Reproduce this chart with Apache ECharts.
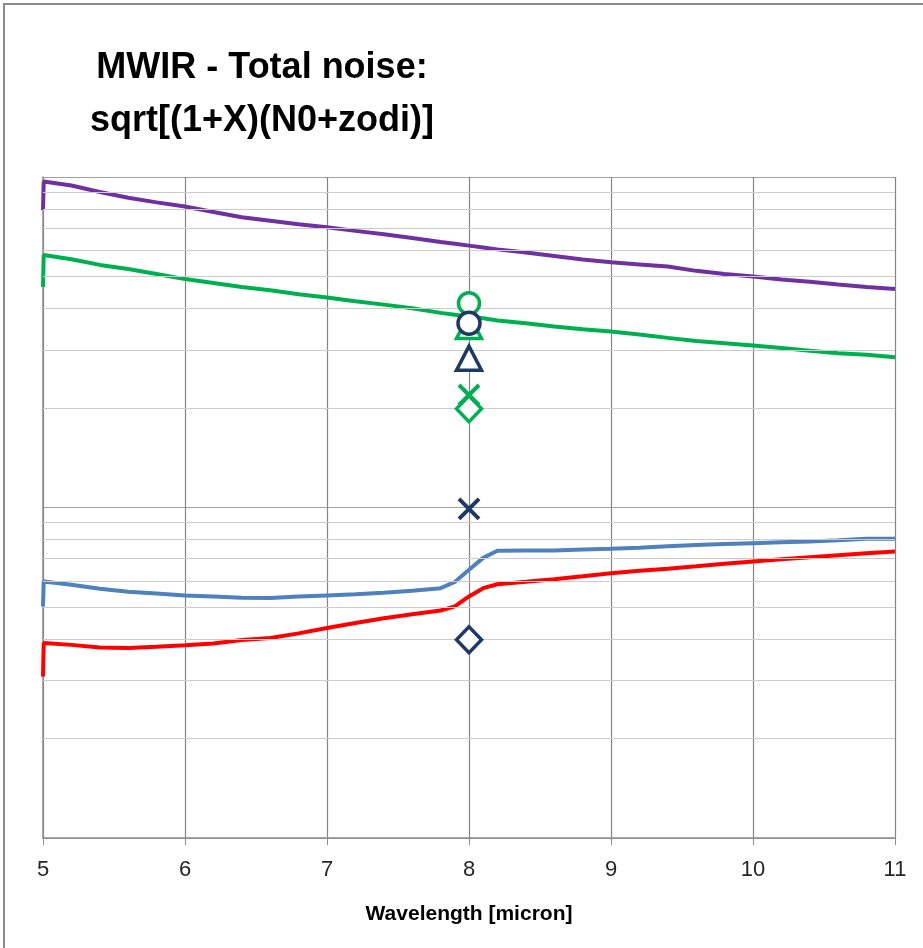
<!DOCTYPE html>
<html>
<head>
<meta charset="utf-8">
<script src="https://cdn.jsdelivr.net/npm/echarts@6/dist/echarts.min.js"></script>
<style>
html,body{margin:0;padding:0;background:#fff;}
#chart{width:923px;height:948px;}
</style>
</head>
<body>
<div id="chart"></div>
<script>
// Wavelength grid [micron] shared by the four curves
const wavelength = [5, 5.005, 5.2, 5.4, 5.6, 5.8, 6.0, 6.2, 6.4, 6.6, 6.8, 7.0, 7.2, 7.4, 7.6, 7.8, 7.9, 8.0, 8.1, 8.2, 8.4, 8.6, 8.8, 9.0, 9.2, 9.4, 9.6, 9.8, 10.0, 10.2, 10.4, 10.6, 10.8, 11.0];
const purpleNoise = [79.5, 96.9, 94.2, 90.1, 86.5, 83.8, 81.4, 78.4, 75.5, 73.7, 71.9, 70.5, 68.7, 67.1, 65.4, 63.6, 62.8, 62.0, 61.2, 60.4, 59.1, 57.7, 56.3, 55.2, 54.4, 53.6, 52.0, 50.9, 50.0, 49.0, 48.2, 47.3, 46.5, 45.8];
const greenNoise = [46.5, 58.1, 56.4, 54.2, 52.7, 50.9, 49.1, 47.8, 46.5, 45.4, 44.2, 43.2, 42.1, 41.1, 40.1, 38.8, 38.3, 37.8, 37.4, 36.8, 36.1, 35.3, 34.6, 34.1, 33.4, 32.6, 31.9, 31.4, 30.9, 30.4, 29.8, 29.3, 29.0, 28.5];
const blueNoise = [5.02, 5.97, 5.84, 5.68, 5.56, 5.49, 5.42, 5.38, 5.33, 5.32, 5.38, 5.42, 5.46, 5.52, 5.60, 5.70, 5.95, 6.48, 7.04, 7.40, 7.41, 7.41, 7.46, 7.50, 7.55, 7.63, 7.70, 7.75, 7.80, 7.85, 7.89, 7.96, 8.04, 8.04];
const redNoise = [3.08, 3.89, 3.84, 3.77, 3.76, 3.79, 3.83, 3.88, 3.97, 4.03, 4.16, 4.32, 4.47, 4.62, 4.75, 4.88, 5.02, 5.38, 5.70, 5.86, 5.96, 6.07, 6.19, 6.32, 6.44, 6.53, 6.64, 6.76, 6.87, 6.97, 7.07, 7.17, 7.27, 7.36];

// Single-point markers at 8 micron
const markerWavelength = 8;
const greenMarkers = { circle: 41.5, triangle: 35.3, cross: 21.9, diamond: 19.9 };
const navyMarkers = { circle: 36.1, triangle: 28.3, cross: 9.9, diamond: 3.98 };

// Axis ranges and minor gridlines (log axis)
const xTicks = [5, 6, 7, 8, 9, 10, 11];
const yMin = 1, yMax = 100;
const minorGrid = [2, 3, 4, 5, 6, 7, 8, 9, 20, 30, 40, 50, 60, 70, 80, 90];

const FONT = "'Liberation Sans', Arial, sans-serif";
const GREEN = '#00B050', NAVY = '#1F3864';
const CROSS = 'path://M0 0L10 10M10 0L0 10';

function zip(xs, ys) { return xs.map((x, i) => [x, ys[i]]); }
function lineSeries(name, color, vals) {
  return { name, type: 'line', data: zip(wavelength, vals), showSymbol: false, symbol: 'none',
    lineStyle: { color, width: 4 }, z: 3, animation: false };
}
function marker(name, color, symbol, size, val) {
  const isCross = symbol === CROSS;
  return { name, type: 'scatter', data: [[markerWavelength, val]], symbol, symbolSize: size, z: 5,
    itemStyle: { color: isCross ? 'none' : '#fff', borderColor: color, borderWidth: isCross ? 4 : 3.5, opacity: 1 },
    animation: false };
}

const chart = echarts.init(document.getElementById('chart'));
chart.setOption({
  backgroundColor: '#fff',
  animation: false,
  graphic: [
    { type: 'rect', shape: { x: 4, y: 4, width: 1000, height: 1000 }, style: { fill: 'none', stroke: '#8c8c8c', lineWidth: 2 }, silent: true, z: -1 },
    { type: 'text', x: 262, y: 68, style: { text: 'MWIR - Total noise:', font: "bold 36px " + FONT, fill: '#000', align: 'center', verticalAlign: 'middle' } },
    { type: 'text', x: 262, y: 121, style: { text: 'sqrt[(1+X)(N0+zodi)]', font: "bold 36px " + FONT, fill: '#000', align: 'center', verticalAlign: 'middle' } }
  ],
  grid: { left: 43, right: 28, top: 177, bottom: 110, containLabel: false },
  xAxis: {
    type: 'value', min: xTicks[0], max: xTicks[xTicks.length - 1], interval: 1,
    name: 'Wavelength [micron]', nameLocation: 'middle', nameGap: 66,
    nameTextStyle: { fontFamily: FONT, fontWeight: 'bold', fontSize: 21, color: '#000' },
    axisLine: { show: true, lineStyle: { color: '#8c8c8c', width: 1.5 } },
    axisTick: { show: true, length: 7, lineStyle: { color: '#8c8c8c' } },
    axisLabel: { fontFamily: FONT, fontSize: 22, color: '#262626', margin: 21 },
    splitLine: { show: true, lineStyle: { color: '#858585', width: 1.2 } }
  },
  yAxis: {
    type: 'log', logBase: 10, min: yMin, max: yMax,
    axisLine: { show: true, lineStyle: { color: '#8c8c8c', width: 1.5 } },
    axisTick: { show: false },
    axisLabel: { show: false },
    splitLine: { show: true, lineStyle: { color: '#a0a0a0', width: 1.2 } }
  },
  series: [
    { name: 'minor', type: 'line', data: [], z: 1, silent: true,
      markLine: { silent: true, symbol: ['none', 'none'], label: { show: false }, animation: false,
        lineStyle: { color: '#cccccc', type: 'solid', width: 1.2 },
        data: minorGrid.map(v => ({ yAxis: v })) } },
    lineSeries('purple', '#7030A0', purpleNoise),
    lineSeries('green', GREEN, greenNoise),
    lineSeries('blue', '#4F81BD', blueNoise),
    lineSeries('red', '#FF0000', redNoise),
    marker('g-diamond', GREEN, 'diamond', [25, 26], greenMarkers.diamond),
    marker('g-cross', GREEN, CROSS, 20, greenMarkers.cross),
    marker('g-triangle', GREEN, 'triangle', [25, 24], greenMarkers.triangle),
    marker('g-circle', GREEN, 'circle', 21, greenMarkers.circle),
    marker('n-circle', NAVY, 'circle', 22, navyMarkers.circle),
    marker('n-triangle', NAVY, 'triangle', [25, 24], navyMarkers.triangle),
    marker('n-cross', NAVY, CROSS, 20, navyMarkers.cross),
    marker('n-diamond', NAVY, 'diamond', [25, 26], navyMarkers.diamond)
  ]
});
</script>
</body>
</html>
